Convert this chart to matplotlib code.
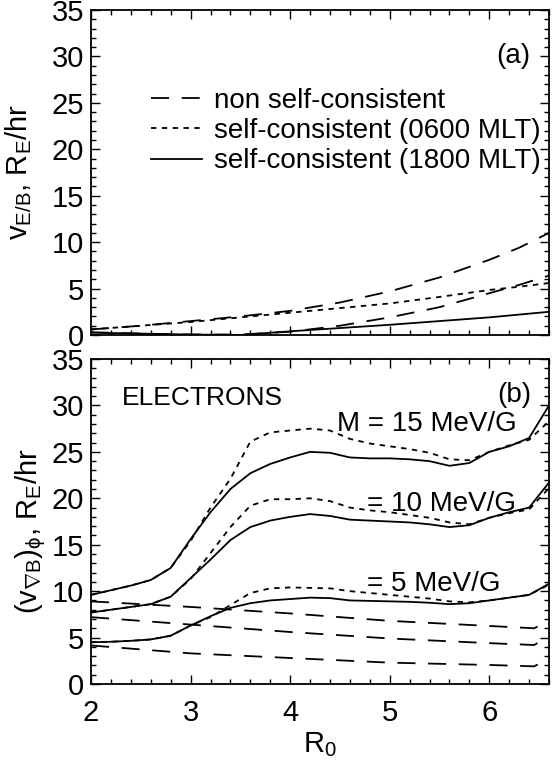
import matplotlib
matplotlib.use('Agg')
import matplotlib.pyplot as plt
from matplotlib.ticker import MultipleLocator

plt.rcParams['font.family'] = ['Liberation Sans', 'DejaVu Sans']
plt.rcParams['mathtext.fontset'] = 'custom'
plt.rcParams['mathtext.rm'] = 'Liberation Sans'
plt.rcParams['mathtext.it'] = 'Liberation Sans'
plt.rcParams['mathtext.sf'] = 'Liberation Sans'

# panel (a): E x B drift speed
r_top = [2.0, 2.5, 3.0, 3.5, 4.0, 4.5, 5.0, 5.5, 6.0, 6.3, 6.6]
exb_nsc_hi = [0.6, 1.0, 1.5, 2.0, 2.6, 3.5, 4.7, 6.2, 8.1, 9.4, 11.0]
exb_nsc_lo = [0.3, 0.15, 0.05, 0.05, 0.35, 1.0, 1.9, 3.0, 4.5, 5.4, 6.4]
exb_sc_0600 = [0.6, 1.0, 1.4, 1.9, 2.4, 2.9, 3.4, 4.1, 4.85, 5.2, 5.6]
exb_sc_1800 = [0.25, 0.15, 0.05, 0.0, 0.4, 0.75, 1.1, 1.5, 1.9, 2.2, 2.5]

# panel (b): gradient drift speed of electrons, M = 15, 10, 5 MeV/G
r_bot = [2.0, 2.2, 2.4, 2.6, 2.8, 3.0, 3.2, 3.4, 3.6, 3.8, 4.0, 4.2,
         4.4, 4.6, 4.8, 5.0, 5.2, 5.4, 5.6, 5.8, 6.0, 6.2, 6.4, 6.6]
sol_15 = [9.6, 10.1, 10.6, 11.2, 12.5, 15.6, 18.5, 21.0, 22.7, 23.7, 24.4, 25.0,
          24.9, 24.4, 24.3, 24.3, 24.2, 24.0, 23.5, 23.8, 25.0, 25.6, 26.5, 30.0]
dot_15 = [9.6, 10.1, 10.6, 11.2, 12.5, 15.4, 19.0, 22.1, 26.1, 27.1, 27.3, 27.5,
          27.3, 26.4, 25.9, 25.6, 25.3, 24.9, 24.2, 24.1, 25.0, 25.7, 26.3, 28.3]
sol_10 = [7.7, 8.0, 8.3, 8.6, 9.4, 11.4, 13.4, 15.5, 16.9, 17.6, 18.0, 18.3,
          18.1, 17.7, 17.6, 17.5, 17.4, 17.2, 16.9, 17.1, 17.9, 18.5, 19.0, 21.7]
dot_10 = [7.7, 8.0, 8.3, 8.6, 9.4, 11.3, 14.1, 16.9, 19.2, 19.9, 19.9, 20.0,
          19.7, 19.0, 18.7, 18.5, 18.2, 17.9, 17.4, 17.2, 17.9, 18.4, 18.8, 21.1]
sol_5 = [4.5, 4.55, 4.65, 4.8, 5.2, 6.3, 7.3, 8.2, 8.7, 9.0, 9.15, 9.3,
         9.25, 9.0, 8.95, 8.9, 8.85, 8.75, 8.6, 8.7, 9.0, 9.3, 9.6, 10.8]
dot_5 = [4.5, 4.55, 4.65, 4.8, 5.2, 6.3, 7.2, 8.5, 9.8, 10.3, 10.4, 10.35,
         10.3, 10.0, 9.8, 9.6, 9.4, 9.2, 8.9, 8.8, 9.0, 9.3, 9.6, 10.7]

r_nsc = [2.0, 3.0, 4.0, 5.0, 6.0, 6.45, 6.6]
nsc_15 = [8.9, 8.3, 7.6, 6.8, 6.25, 6.0, 6.8]
nsc_10 = [7.2, 6.4, 5.6, 4.9, 4.4, 4.2, 5.1]
nsc_5 = [4.15, 3.3, 2.8, 2.3, 2.05, 1.9, 2.7]

DASH = (0, (10, 7))
DOT = (0, (3, 3))
LW = 1.3
FS = 20

fig = plt.figure(figsize=(5.53, 7.6), dpi=100)
ax1 = fig.add_axes([0.1646, 0.5592, 0.8282, 0.4276])
ax2 = fig.add_axes([0.1646, 0.1, 0.8282, 0.4276])

ax1.plot(r_top, exb_nsc_hi, color='black', lw=LW, ls=DASH, label='non self-consistent')
ax1.plot(r_top, exb_nsc_lo, color='black', lw=LW, ls=DASH)
ax1.plot(r_top, exb_sc_0600, color='black', lw=LW, ls=DOT, label='self-consistent (0600 MLT)')
ax1.plot(r_top, exb_sc_1800, color='black', lw=LW, ls='-', label='self-consistent (1800 MLT)')

for yv in (nsc_15, nsc_10, nsc_5):
    ax2.plot(r_nsc, yv, color='black', lw=LW, ls=DASH)
for yv in (dot_15, dot_10, dot_5):
    ax2.plot(r_bot, yv, color='black', lw=LW, ls=DOT)
for yv in (sol_15, sol_10, sol_5):
    ax2.plot(r_bot, yv, color='black', lw=LW, ls='-')

for ax in (ax1, ax2):
    ax.set_xlim(2, 6.6)
    ax.set_ylim(0, 35)
    ax.xaxis.set_major_locator(MultipleLocator(1))
    ax.xaxis.set_minor_locator(MultipleLocator(0.2))
    ax.yaxis.set_major_locator(MultipleLocator(5))
    ax.yaxis.set_minor_locator(MultipleLocator(1))
    ax.tick_params(which='both', direction='in', top=True, right=True, width=1.0)
    ax.tick_params(which='major', length=6.5, labelsize=21)
    ax.tick_params(which='minor', length=3.5)
    ax.tick_params(axis='x', which='major', pad=11)
    ax.tick_params(axis='y', which='major', pad=5)
    for s in ax.spines.values():
        s.set_linewidth(1.3)

ax1.tick_params(labelbottom=False)

ax1.set_ylabel(r'v$_{\rm E/B}$, R$_{\rm E}$/hr', fontsize=21)
ax2.set_ylabel(r'(v$_{\nabla\rm B}$)$_{\phi}$, R$_{\rm E}$/hr', fontsize=21)
ax1.yaxis.set_label_coords(-0.125, 0.5)
ax2.yaxis.set_label_coords(-0.095, 0.47)
ax2.set_xlabel(r'R$_0$', fontsize=21, labelpad=2)

leg = ax1.legend(loc='upper left', bbox_to_anchor=(0.13, 0.76), frameon=False,
                 fontsize=FS, handlelength=1.85, handletextpad=0.45,
                 labelspacing=0.15, borderpad=0, borderaxespad=0)

ax1.text(0.96, 0.858, '(a)', transform=ax1.transAxes, fontsize=FS,
         ha='right', va='center')
ax2.text(0.962, 0.89, '(b)', transform=ax2.transAxes, fontsize=FS,
         ha='right', va='center')
ax2.text(0.068, 0.88, 'ELECTRONS', transform=ax2.transAxes, fontsize=19,
         ha='left', va='center')
ax2.text(0.537, 0.80, 'M = 15 MeV/G', transform=ax2.transAxes, fontsize=FS,
         ha='left', va='center')
ax2.text(0.603, 0.554, '= 10 MeV/G', transform=ax2.transAxes, fontsize=FS,
         ha='left', va='center')
ax2.text(0.603, 0.309, '= 5 MeV/G', transform=ax2.transAxes, fontsize=FS,
         ha='left', va='center')

fig.savefig('out.png', dpi=100)
